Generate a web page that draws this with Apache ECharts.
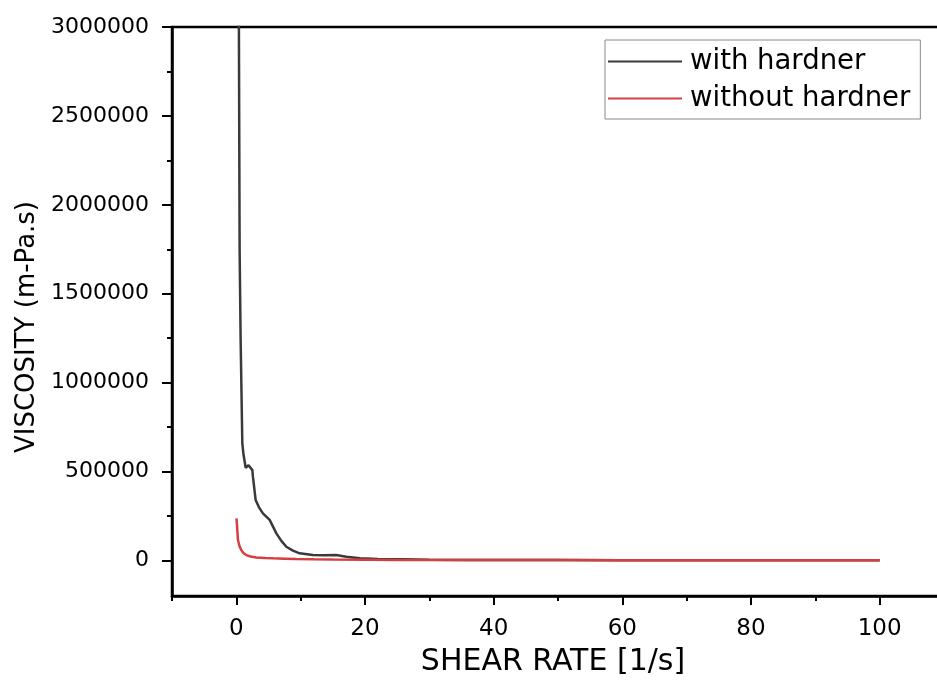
<!DOCTYPE html>
<html>
<head>
<meta charset="utf-8">
<script src="https://cdn.jsdelivr.net/npm/echarts@6/dist/echarts.min.js"></script>
<style>html,body{margin:0;padding:0;background:#fff}#c{width:937px;height:684px}</style>
</head>
<body>
<div id="c"></div>
<script>
// ---- data ----
const seriesNames = ['with hardner', 'without hardner'];
const withX = [0.3, 0.4, 0.51, 0.67, 0.93, 1.1, 1.45, 1.9, 2.18, 2.49, 2.58, 3.0, 3.5, 4.13, 5.18, 6.22, 7.0, 7.77, 8.8, 9.84, 11.9, 13.5, 15.5, 17.1, 19.2, 22, 26, 30, 35, 40, 50, 60, 70, 80, 90, 100];
const withY = [3600000, 3000000, 1750000, 1240000, 658000, 600000, 521000, 535000, 546000, 508000, 471000, 340000, 300000, 265000, 228000, 152000, 110000, 77000, 55000, 40000, 30000, 29000, 30000, 21000, 12000, 8000, 6000, 4000, 3000, 2500, 2000, 1500, 1200, 1000, 800, 600];
const withoutX = [0.02, 0.1, 0.25, 0.5, 0.78, 1.1, 1.55, 2.2, 3.1, 4.5, 5.7, 7.5, 9.3, 12, 15, 20, 25, 30, 40, 50, 60, 70, 80, 90, 100];
const withoutY = [237000, 200000, 115000, 80000, 58000, 42000, 30000, 22000, 17000, 14000, 12000, 10000, 8000, 6500, 5000, 4000, 3000, 2500, 2000, 1800, 1600, 1500, 1400, 1300, 1200];
const xMajorTicks = [0, 20, 40, 60, 80, 100];
const xMinorTicks = [-10, 10, 30, 50, 70, 90, 110];
const yMajorTicks = [0, 500000, 1000000, 1500000, 2000000, 2500000, 3000000];
const yMinorTicks = [250000, 750000, 1250000, 1750000, 2250000, 2750000];
const xTitle = 'SHEAR RATE [1/s]';
const yTitle = 'VISCOSITY (m-Pa.s)';

const FONT = 'DejaVu Sans';
const chart = echarts.init(document.getElementById('c'), null, {renderer: 'canvas'});
const xRange = {min: -10, max: 110};
const yRange = {min: -200000, max: 3000000};
const plain = v => String(Math.round(v));

const option = {
  backgroundColor: '#fff',
  animation: false,
  grid: {left: 172, right: -7, top: 27, bottom: 88, show: true, borderColor: '#000', borderWidth: 2.5, outerBoundsMode: 'none', containLabel: false},
  legend: {
    orient: 'vertical', left: 605, top: 40,
    data: seriesNames,
    icon: 'rect', itemWidth: 74, itemHeight: 2, itemGap: 0,
    borderColor: '#8a8a8a', borderWidth: 1, padding: [3, 10, 2, 3],
    textStyle: {fontFamily: FONT, fontSize: 27.5, color: '#000', lineHeight: 37, padding: [0, 0, 0, 3]}
  },
  xAxis: [
    {type: 'value', min: xRange.min, max: xRange.max, position: 'bottom',
     splitLine: {show: false},
     axisLine: {show: true, onZero: false, lineStyle: {color: '#000', width: 2.5}},
     axisTick: {show: true, inside: false, length: 9, customValues: xMajorTicks, lineStyle: {color: '#000', width: 2}},
     axisLabel: {customValues: xMajorTicks, margin: 22, fontFamily: FONT, fontSize: 23, color: '#000', formatter: plain}},
    {type: 'value', min: xRange.min, max: xRange.max, position: 'bottom',
     splitLine: {show: false},
     axisLine: {show: false, onZero: false},
     axisTick: {show: true, length: 5, customValues: xMinorTicks, lineStyle: {color: '#000', width: 2}},
     axisLabel: {show: false}}
  ],
  yAxis: [
    {type: 'value', min: yRange.min, max: yRange.max, position: 'left',
     splitLine: {show: false},
     axisLine: {show: true, onZero: false, lineStyle: {color: '#000', width: 2.5}},
     axisTick: {show: true, length: 10, customValues: yMajorTicks, lineStyle: {color: '#000', width: 2}},
     axisLabel: {customValues: yMajorTicks, margin: 23, fontFamily: FONT, fontSize: 22, color: '#000', formatter: plain}},
    {type: 'value', min: yRange.min, max: yRange.max, position: 'left',
     splitLine: {show: false},
     axisLine: {show: false, onZero: false},
     axisTick: {show: true, length: 5, customValues: yMinorTicks, lineStyle: {color: '#000', width: 2}},
     axisLabel: {show: false}}
  ],
  graphic: [
    {type: 'text', x: 553, y: 662, style: {text: xTitle, font: '30px "DejaVu Sans"', fill: '#000', align: 'center', verticalAlign: 'middle', textAlign: 'center', textVerticalAlign: 'middle'}},
    {type: 'text', x: 27, y: 327, rotation: Math.PI / 2, style: {text: yTitle, font: '26px "DejaVu Sans"', fill: '#000', align: 'center', verticalAlign: 'middle', textAlign: 'center', textVerticalAlign: 'middle'}}
  ],
  series: [
    {name: seriesNames[0], type: 'line', xAxisIndex: 0, yAxisIndex: 0, symbol: 'none', showSymbol: false,
     color: '#3a3a3a', lineStyle: {color: '#3a3a3a', width: 2.5}, clip: true,
     data: withX.map((x, i) => [x, withY[i]])},
    {name: seriesNames[1], type: 'line', xAxisIndex: 0, yAxisIndex: 0, symbol: 'none', showSymbol: false,
     color: '#d63f3f', lineStyle: {color: '#d63f3f', width: 2.5}, clip: true,
     data: withoutX.map((x, i) => [x, withoutY[i]])}
  ]
};
chart.setOption(option);
</script>
</body>
</html>
